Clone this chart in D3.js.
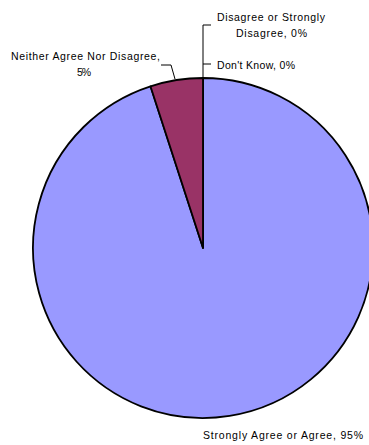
<!DOCTYPE html>
<html>
<head>
<meta charset="utf-8">
<script src="https://cdn.jsdelivr.net/npm/d3@7"></script>
<style>
  html, body { margin: 0; padding: 0; background: #fff; }
  text { font-family: "Liberation Sans", Arial, sans-serif; font-size: 10.5px; fill: #000; }
</style>
</head>
<body>
<svg id="chart" width="369" height="445"></svg>
<script>
// survey responses, Excel-style pie starting at 12 o'clock going clockwise
const categories = ["Strongly Agree or Agree", "Neither Agree Nor Disagree", "Disagree or Strongly Disagree", "Don't Know"];
const values = [95, 5, 0, 0];
const colors = ["#9999ff", "#993366", "#ffffcc", "#ccffff"];

const cx = 203, cy = 248, r = 170;

const svg = d3.select("#chart");
const pie = d3.pie().sort(null).value(d => d.value);
const arcs = pie(categories.map((c, i) => ({ cat: c, value: values[i], color: colors[i] })));
const arc = d3.arc().innerRadius(0).outerRadius(r);

const g = svg.append("g").attr("transform", `translate(${cx},${cy})`);
g.selectAll("path")
  .data(arcs.filter(d => d.value > 0))
  .enter().append("path")
  .attr("d", arc)
  .attr("fill", d => d.data.color)
  .attr("stroke", "#000")
  .attr("stroke-width", 1.8)
  .attr("stroke-linejoin", "round");

// label lines, each with its left x, baseline y and the width it spans in the original
const labels = [
  { t: "Strongly Agree or Agree, 95%", x: 203, y: 439, w: 160 },
  { t: "Neither Agree Nor Disagree,", x: 11, y: 60, w: 149 },
  { t: "5%", x: 77, y: 76, w: 14 },
  { t: "Disagree or Strongly", x: 217, y: 21, w: 108 },
  { t: "Disagree, 0%", x: 236, y: 37, w: 71 },
  { t: "Don't Know, 0%", x: 217, y: 69, w: 78 }
];
svg.append("g").selectAll("text")
  .data(labels)
  .enter().append("text")
  .attr("x", d => d.x)
  .attr("y", d => d.y)
  .attr("textLength", d => d.w)
  .attr("lengthAdjust", "spacing")
  .text(d => d.t);

// leader lines
const lead = d3.line();
const leaders = [
  [[175, 79], [171, 65], [161, 65]],
  [[cx, cy - r], [cx, 25], [211, 25]],
  [[cx, 64], [211, 64]]
];
svg.append("g").selectAll("path")
  .data(leaders)
  .enter().append("path")
  .attr("d", lead)
  .attr("fill", "none")
  .attr("stroke", "#000")
  .attr("stroke-width", 1);
</script>
</body>
</html>
